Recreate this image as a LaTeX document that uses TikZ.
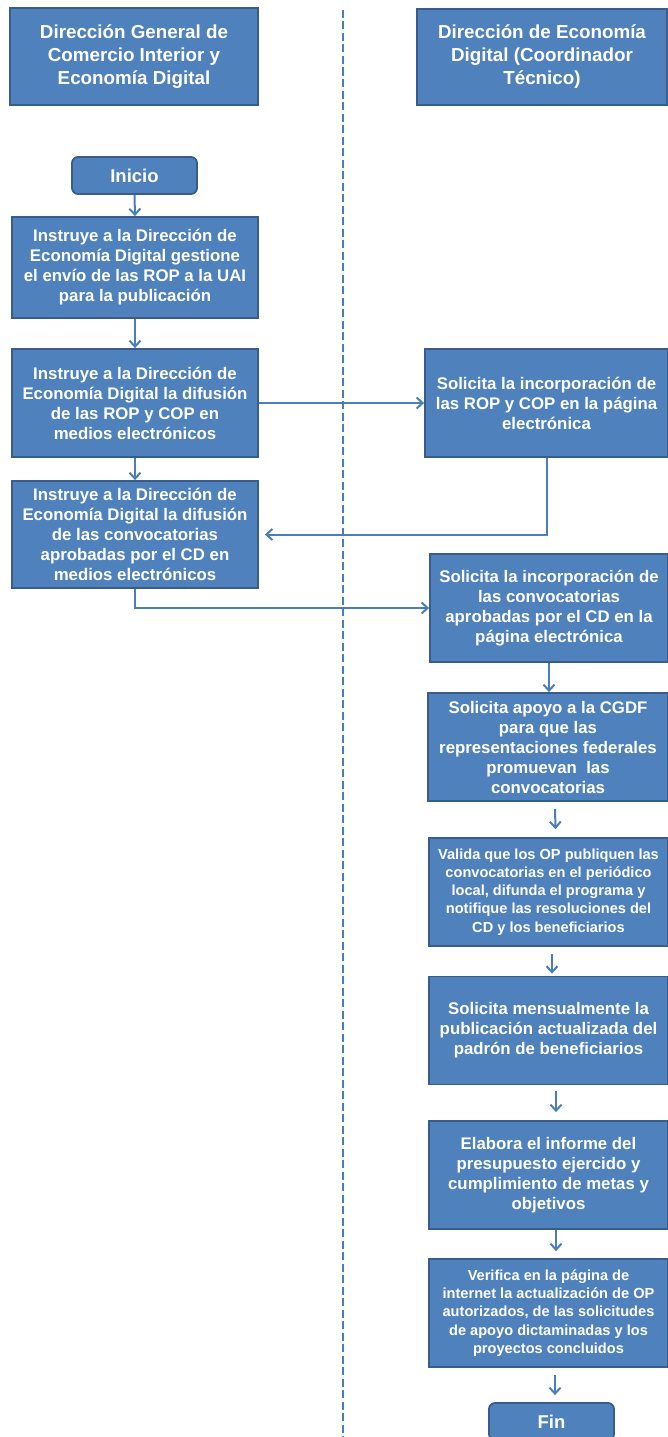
\documentclass[tikz,border=0pt]{standalone}
\usepackage{fontspec}
\setmainfont{Liberation Sans}
\usetikzlibrary{arrows.meta}
\definecolor{boxfill}{HTML}{4F81BD}
\definecolor{boxline}{HTML}{385D8A}
\definecolor{linkc}{HTML}{4A7EBB}
\begin{document}
\begin{tikzpicture}[x=1pt,y=-1pt,
  box/.style={draw=boxline,fill=boxfill,line width=1.8pt,text=white,align=center,inner sep=2pt,
    font=\bfseries\fontsize{16.8}{20}\selectfont},
  small/.style={font=\bfseries\fontsize{14.6}{18.2}\selectfont},
  hdr/.style={font=\bfseries\fontsize{18.8}{23}\selectfont},
  term/.style={box,rounded corners=6pt,font=\bfseries\fontsize{18.5}{22}\selectfont},
  arr/.style={draw=linkc,line width=2pt,-{Straight Barb[length=6pt,width=11pt]}}]
\useasboundingbox (0,0) rectangle (668,1437);
\coordinate (dtop) at (343,10);
\coordinate (dbot) at (343,1440);
\draw[linkc,line width=2pt,dash pattern=on 8pt off 3.5pt] (dtop) -- (dbot);

\node[box,hdr,minimum width=248pt,minimum height=97pt] (h1) at (134,56.5) {Dirección General de\\Comercio Interior y\\Economía Digital};
\node[box,hdr,minimum width=250pt,minimum height=96pt] (h2) at (542,57) {Dirección de Economía\\Digital (Coordinador\\Técnico)};

\node[term,minimum width=125pt,minimum height=37pt] (ini) at (134.5,175.5) {Inicio};
\node[box,minimum width=246pt,minimum height=101pt] (b1) at (135,267.5) {Instruye a la Dirección de\\Economía Digital gestione\\el envío de las ROP a la UAI\\para la publicación};
\node[box,minimum width=246pt,minimum height=108pt] (b2) at (135,403) {Instruye a la Dirección de\\Economía Digital la difusión\\de las ROP y COP en\\medios electrónicos};
\node[box,minimum width=246pt,minimum height=107pt] (b3) at (135,534.5) {Instruye a la Dirección de\\Economía Digital la difusión\\de las convocatorias\\aprobadas por el CD en\\medios electrónicos};

\node[box,minimum width=243pt,minimum height=108pt] (r1) at (546.5,403) {Solicita la incorporación de\\las ROP y COP en la página\\electrónica};
\node[box,minimum width=238pt,minimum height=108pt] (r2) at (549,608) {Solicita la incorporación de\\las convocatorias\\aprobadas por el CD en la\\página electrónica};
\node[box,minimum width=240pt,minimum height=108pt] (r3) at (548,747) {Solicita apoyo a la CGDF\\para que las\\representaciones federales\\promuevan\ \ las\\convocatorias};
\node[box,small,minimum width=239pt,minimum height=108pt] (r4) at (548.5,892) {Valida que los OP publiquen las\\convocatorias en el periódico\\local, difunda el programa y\\notifique las resoluciones del\\CD y los beneficiarios};
\node[box,minimum width=239pt,minimum height=108pt] (r5) at (548.5,1030.5) {Solicita mensualmente la\\publicación actualizada del\\padrón de beneficiarios};
\node[box,minimum width=239pt,minimum height=108pt] (r6) at (548.5,1175) {Elabora el informe del\\presupuesto ejercido y\\cumplimiento de metas y\\objetivos};
\node[box,small,minimum width=239pt,minimum height=108pt] (r7) at (548.5,1313) {Verifica en la página de\\internet la actualización de OP\\autorizados, de las solicitudes\\de apoyo dictaminadas y los\\proyectos concluidos};
\node[term,minimum width=125pt,minimum height=37pt] (fin) at (551.5,1421.5) {Fin};

\draw[arr] (ini.south) -- (b1.north);
\draw[arr] (b1.south) -- (b2.north);
\draw[arr] (b2.east) -- (r1.west);
\draw[arr] (b2.south) -- (b3.north);
\draw[arr] (r1.south) |- ([xshift=6pt]b3.east);
\draw[arr] (b3.south) |- (r2.west);
\draw[arr] (r2.south) -- (r2.south |- r3.north);
\draw[arr] ([xshift=7pt,yshift=-7pt]r3.south) -- ([xshift=7pt,yshift=8pt]r4.north);
\draw[arr] ([xshift=3.5pt,yshift=-7pt]r4.south) -- ([xshift=3.5pt,yshift=2pt]r5.north);
\draw[arr] ([xshift=7.5pt,yshift=-6pt]r5.south) -- ([xshift=7.5pt,yshift=8pt]r6.north);
\draw[arr] ([xshift=7.5pt]r6.south) -- ([xshift=7.5pt,yshift=7pt]r7.north);
\draw[arr] ([xshift=6.5pt,yshift=-7pt]r7.south) -- ([xshift=3.5pt,yshift=7pt]fin.north);
\end{tikzpicture}
\end{document}
